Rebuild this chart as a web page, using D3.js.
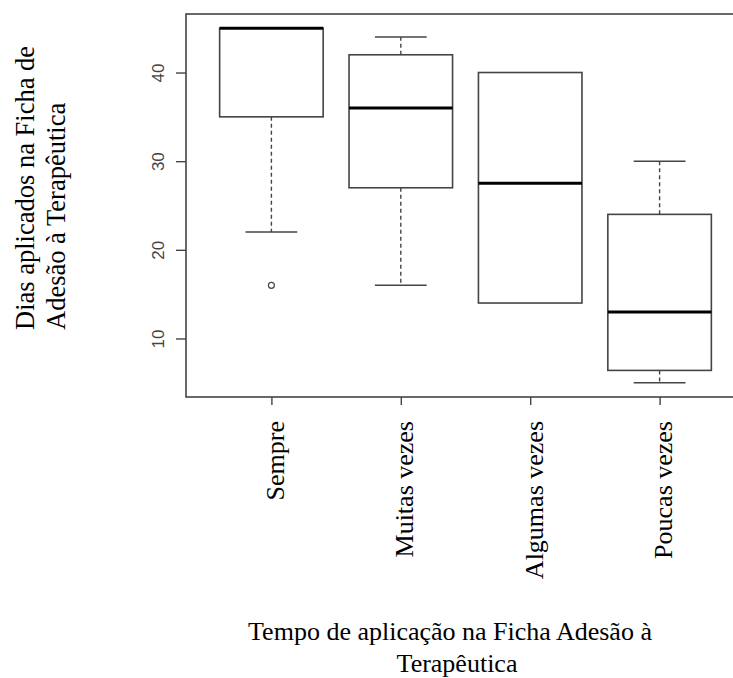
<!DOCTYPE html>
<html>
<head>
<meta charset="utf-8">
<script src="https://cdn.jsdelivr.net/npm/d3@7"></script>
<style>
  html, body { margin: 0; padding: 0; background: #fff; }
  svg { display: block; }
</style>
</head>
<body>
<svg id="chart" width="733" height="678"></svg>
<script>
// ---- data ----
const categories   = ["Sempre", "Muitas vezes", "Algumas vezes", "Poucas vezes"];
const whiskerLow   = [22, 16, 14, 5];
const q1           = [35, 27, 14, 6.4];
const median       = [45, 36, 27.5, 13];
const q3           = [45, 42, 40, 24];
const whiskerHigh  = [45, 44, 40, 30];
const outliers     = [[16], [], [], []];
const yTicks       = [10, 20, 30, 40];
const yTitleLines  = ["Dias aplicados na Ficha de", "Adesão à Terapêutica"];
const xTitleLines  = ["Tempo de aplicação na Ficha Adesão à", "Terapêutica"];

// ---- layout ----
const W = 733, H = 678;
const plot = { left: 186, top: 14, right: 745, bottom: 397 };
const serif = "'Liberation Serif', 'Times New Roman', Times, serif";
const sans = "'Liberation Sans', Arial, Helvetica, sans-serif";
const lineCol = "#444";

const svg = d3.select("#chart");

const x = d3.scaleLinear().domain([0.34, categories.length + 0.66]).range([plot.left, plot.right]);
const y = d3.scaleLinear().domain([3.4, 46.6]).range([plot.bottom, plot.top]);

const boxHalf = 0.4, capHalf = 0.2;

const data = categories.map((c, i) => ({
  cat: c, pos: i + 1,
  lo: whiskerLow[i], q1: q1[i], med: median[i], q3: q3[i], hi: whiskerHigh[i],
  out: outliers[i]
}));

// frame
svg.append("rect")
  .attr("x", plot.left).attr("y", plot.top)
  .attr("width", plot.right - plot.left).attr("height", plot.bottom - plot.top)
  .attr("fill", "none").attr("stroke", lineCol).attr("stroke-width", 1.6);

// y axis
const yAxis = d3.axisLeft(y).tickValues(yTicks).tickSize(10).tickPadding(0).tickFormat(d3.format("d"));
const gy = svg.append("g").attr("transform", `translate(${plot.left},0)`).call(yAxis);
gy.select(".domain").remove();
gy.selectAll(".tick line").attr("stroke", lineCol).attr("stroke-width", 1.4);
gy.selectAll(".tick text")
  .attr("transform", null)
  .attr("x", null).attr("dy", null)
  .attr("text-anchor", "middle")
  .attr("font-family", sans).attr("font-size", 17).attr("fill", "#444")
  .attr("transform", function() {
    return "translate(-22,0) rotate(-90)";
  })
  .attr("dy", 0);

// x axis
const xAxis = d3.axisBottom(x).tickValues(data.map(d => d.pos)).tickSize(8).tickFormat((d, i) => categories[i]);
const gx = svg.append("g").attr("transform", `translate(0,${plot.bottom})`).call(xAxis);
gx.select(".domain").remove();
gx.selectAll(".tick line").attr("stroke", lineCol).attr("stroke-width", 1.4);
gx.selectAll(".tick text")
  .attr("y", null).attr("dy", null)
  .attr("text-anchor", "end")
  .attr("font-family", serif).attr("font-size", 26).attr("fill", "#000")
  .attr("transform", "translate(12,24) rotate(-90)");

// boxes
const g = svg.append("g");
const bx = g.selectAll("g.box").data(data).join("g").attr("class", "box");

// whiskers (dashed)
bx.append("line")
  .attr("x1", d => x(d.pos)).attr("x2", d => x(d.pos))
  .attr("y1", d => y(d.q3)).attr("y2", d => y(d.hi))
  .attr("stroke", lineCol).attr("stroke-width", 1.4).attr("stroke-dasharray", "4,3");
bx.append("line")
  .attr("x1", d => x(d.pos)).attr("x2", d => x(d.pos))
  .attr("y1", d => y(d.q1)).attr("y2", d => y(d.lo))
  .attr("stroke", lineCol).attr("stroke-width", 1.4).attr("stroke-dasharray", "4,3");
// caps
bx.filter(d => d.hi > d.q3).append("line")
  .attr("x1", d => x(d.pos - capHalf)).attr("x2", d => x(d.pos + capHalf))
  .attr("y1", d => y(d.hi)).attr("y2", d => y(d.hi))
  .attr("stroke", lineCol).attr("stroke-width", 1.5);
bx.filter(d => d.lo < d.q1).append("line")
  .attr("x1", d => x(d.pos - capHalf)).attr("x2", d => x(d.pos + capHalf))
  .attr("y1", d => y(d.lo)).attr("y2", d => y(d.lo))
  .attr("stroke", lineCol).attr("stroke-width", 1.5);
// box
bx.append("rect")
  .attr("x", d => x(d.pos - boxHalf)).attr("width", d => x(d.pos + boxHalf) - x(d.pos - boxHalf))
  .attr("y", d => y(d.q3)).attr("height", d => y(d.q1) - y(d.q3))
  .attr("fill", "#fff").attr("stroke", lineCol).attr("stroke-width", 1.6);
// median
bx.append("line")
  .attr("x1", d => x(d.pos - boxHalf)).attr("x2", d => x(d.pos + boxHalf))
  .attr("y1", d => y(d.med)).attr("y2", d => y(d.med))
  .attr("stroke", "#000").attr("stroke-width", 3);
// outliers
bx.selectAll("circle").data(d => d.out.map(v => ({ pos: d.pos, v }))).join("circle")
  .attr("cx", d => x(d.pos)).attr("cy", d => y(d.v)).attr("r", 3)
  .attr("fill", "none").attr("stroke", lineCol).attr("stroke-width", 1.2);

// y title
const yt = svg.append("text")
  .attr("font-family", serif).attr("font-size", 26.5).attr("fill", "#000")
  .attr("text-anchor", "start")
  .attr("transform", "translate(34,330) rotate(-90)");
yt.selectAll("tspan").data(yTitleLines).join("tspan")
  .attr("x", 0).attr("dy", (d, i) => i === 0 ? 0 : 31)
  .text(d => d);

// x title
const xt = svg.append("text")
  .attr("font-family", serif).attr("font-size", 26).attr("fill", "#000")
  .attr("text-anchor", "middle");
xt.selectAll("tspan").data(xTitleLines).join("tspan")
  .attr("x", (d, i) => i === 0 ? 450 : 457)
  .attr("y", (d, i) => 640 + i * 32)
  .text(d => d);
</script>
</body>
</html>
